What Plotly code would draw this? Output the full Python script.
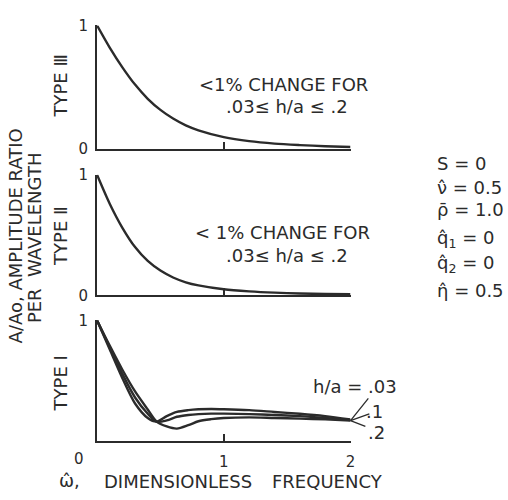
import plotly.graph_objects as go

# ---------------- data ----------------
freq_smooth = [0, 0.1, 0.2, 0.3, 0.4, 0.5, 0.6, 0.7, 0.8, 1.0, 1.2, 1.4, 1.6, 1.8, 2.0]
type3 = [1.0, 0.82, 0.66, 0.52, 0.405, 0.315, 0.245, 0.19, 0.15, 0.095, 0.062, 0.042, 0.03, 0.021, 0.015]
type2 = [1.0, 0.76, 0.56, 0.40, 0.285, 0.205, 0.148, 0.108, 0.082, 0.05, 0.033, 0.022, 0.015, 0.012, 0.01]

freq_type1 = [0, 0.1, 0.2, 0.3, 0.4, 0.47, 0.55, 0.63, 0.72, 0.8, 0.9, 1.0, 1.2, 1.4, 1.6, 1.8, 2.0]
type1_h03 = [1.0, 0.76, 0.52, 0.31, 0.19, 0.16, 0.205, 0.24, 0.255, 0.262, 0.265, 0.263, 0.255, 0.24, 0.225, 0.205, 0.177]
type1_h1 = [1.0, 0.775, 0.555, 0.36, 0.225, 0.16, 0.17, 0.20, 0.215, 0.222, 0.226, 0.226, 0.222, 0.215, 0.205, 0.19, 0.172]
type1_h2 = [1.0, 0.79, 0.59, 0.41, 0.26, 0.16, 0.12, 0.102, 0.13, 0.163, 0.18, 0.19, 0.195, 0.19, 0.185, 0.178, 0.168]

x_tick_vals = [1, 2]
x_tick_text = ["1", "2"]
h_labels = ["h/a = .03", ".1", ".2"]
params = ["S = 0", "ν\u0302 = 0.5", "ρ\u0304 = 1.0", "q\u0302<sub>1</sub> = 0", "q\u0302<sub>2</sub> = 0", "η\u0302 = 0.5"]

# ---------------- layout helpers ----------------
W, H = 508, 500
INK = "#2b2b2b"
FONT = "DejaVu Sans"


def px(x):
    return x / W


def py(y):
    return 1 - y / H


fig = go.Figure()
line = dict(color=INK, width=2.4, shape="spline", smoothing=0.8)

fig.add_trace(go.Scatter(x=freq_smooth, y=type3, mode="lines", line=line, xaxis="x", yaxis="y",
                         cliponaxis=False, showlegend=False))
fig.add_trace(go.Scatter(x=freq_smooth, y=type2, mode="lines", line=line, xaxis="x2", yaxis="y2",
                         cliponaxis=False, showlegend=False))
for ys in (type1_h03, type1_h1, type1_h2):
    fig.add_trace(go.Scatter(x=freq_type1, y=ys, mode="lines", line=line, xaxis="x3", yaxis="y3",
                             cliponaxis=False, showlegend=False))

xdom = [px(98), px(354)]
ydoms = {
    "": [py(145), py(17)],
    "2": [py(297), py(172)],
    "3": [py(448), py(323)],
}

axis_common = dict(showline=True, linecolor=INK, linewidth=2.2, showgrid=False, zeroline=False,
                   ticks="inside", tickcolor=INK, tickwidth=2, mirror=False,
                   tickfont=dict(family=FONT, size=15, color=INK))

layout = dict(width=W, height=H, margin=dict(l=0, r=0, t=0, b=0),
              paper_bgcolor="white", plot_bgcolor="white",
              font=dict(family=FONT, color=INK, size=18))

for k, dom in ydoms.items():
    xa = dict(axis_common, domain=xdom, range=[0, 2], tickvals=x_tick_vals, ticklen=7,
              anchor="y" + k)
    if k == "3":
        xa.update(ticktext=x_tick_text, showticklabels=True, ticklabelstandoff=6)
    else:
        xa.update(showticklabels=False)
    ya = dict(axis_common, domain=dom, range=[0, 1], ticklen=8, anchor="x" + k,
              ticklabelstandoff=4)
    if k == "3":
        ya.update(tickvals=[1], ticktext=["1"])
    else:
        ya.update(tickvals=[0, 1], ticktext=["0", "1"])
    layout["xaxis" + k] = xa
    layout["yaxis" + k] = ya

fig.update_layout(**layout)

ann = []


def note(text, x, y, size=18, angle=0, xanchor="center"):
    ann.append(dict(text=text, x=px(x), y=py(y), xref="paper", yref="paper", showarrow=False,
                    xanchor=xanchor, yanchor="middle", textangle=angle,
                    font=dict(family=FONT, size=size, color=INK)))


note("TYPE Ⅲ", 61, 80, angle=-90)
note("TYPE Ⅱ", 61, 235, angle=-90)
note("TYPE I", 61, 388, angle=-90)
note("A/Ao, AMPLITUDE RATIO", 16, 235, angle=-90)
note("PER  WAVELENGTH", 35, 237, angle=-90)

note("&lt;1% CHANGE FOR", 286, 78)
note(".03≤ h/a ≤ .2", 290, 101)
note("&lt; 1% CHANGE FOR", 285, 232)
note(".03≤ h/a ≤ .2", 290, 256)

note("0", 80, 467, size=15)
note("ω\u0302,", 70, 489)
note("DIMENSIONLESS", 180, 490)
note("FREQUENCY", 331, 490)

note(h_labels[0], 359, 392)
note(h_labels[1], 378, 418)
note(h_labels[2], 380, 439)

param_y = [160, 185, 208, 239, 265, 292]
for t, yy in zip(params, param_y):
    note(t, 439, yy, xanchor="left")

fig.update_layout(annotations=ann)

shapes = []
for (x1, y1) in [(372, 404), (373, 420), (369, 433)]:
    shapes.append(dict(type="line", xref="paper", yref="paper", x0=px(354), y0=py(427),
                       x1=px(x1), y1=py(y1), line=dict(color=INK, width=1.3)))
fig.update_layout(shapes=shapes)

fig.write_html("out.html")
